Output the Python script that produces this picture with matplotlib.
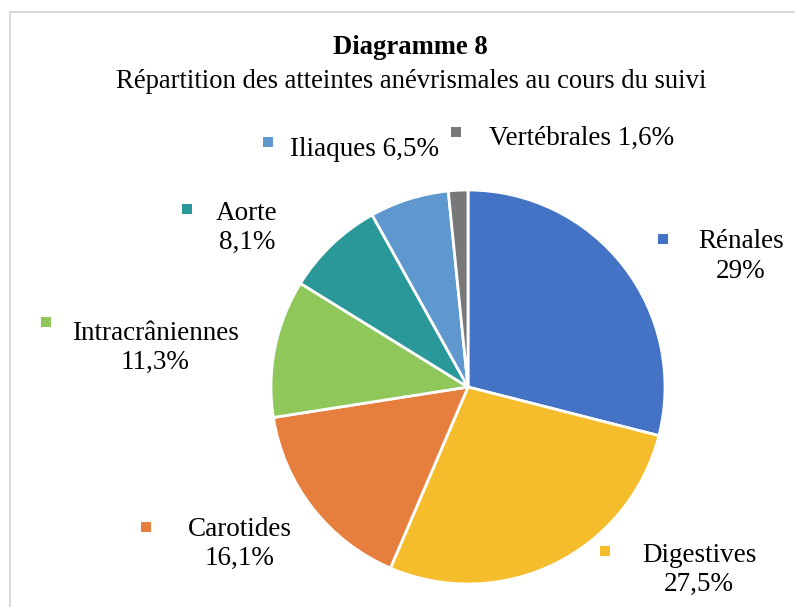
import matplotlib
matplotlib.use("Agg")
from matplotlib import pyplot as plt
from matplotlib.patches import Rectangle

# data
categories = ["Rénales", "Digestives", "Carotides", "Intracrâniennes",
              "Aorte", "Iliaques", "Vertébrales"]
percents = [29, 27.5, 16.1, 11.3, 8.1, 6.5, 1.6]
pct_labels = ["29%", "27,5%", "16,1%", "11,3%", "8,1%", "6,5%", "1,6%"]
colours = ["#4472C4", "#F5BD2C", "#E67F3E", "#8FC75A",
           "#2A9898", "#5E98CF", "#787878"]

# label layout in pixels (text centre x, first line y, marker x, marker y, one line?)
label_pos = [
    (741, 242, 663, 239, False),
    (699, 555, 605, 551, False),
    (240, 529, 146, 527, False),
    (155, 333, 46, 322, False),
    (247, 213, 187, 209, False),
    (365, 150, 268, 142, True),
    (582, 138, 456, 132, True),
]

W, H = 795, 607
plt.rcParams['font.family'] = ['Liberation Serif', 'DejaVu Serif']

fig = plt.figure(figsize=(W / 100, H / 100), dpi=100)
ax = fig.add_axes([0, 0, 1, 1])

ax.pie(percents, colors=colours, startangle=90, counterclock=False,
       center=(468, H - 387), radius=197, frame=True,
       wedgeprops=dict(edgecolor="white", linewidth=2))
ax.set_xlim(0, W)
ax.set_ylim(0, H)
ax.set_aspect("equal")
ax.axis("off")

# thin grey frame (chart area border)
fig.patches.append(Rectangle((10 / W, -0.1), 1.2, (H - 12) / H + 0.1,
                             transform=fig.transFigure, fill=False,
                             edgecolor="#d9d9d9", linewidth=1.5))

fig.text(410 / W, 1 - 48 / H, "Diagramme 8", ha="center", va="center",
         fontsize=19.2, fontweight="bold")
fig.text(411 / W, 1 - 81 / H,
         "Répartition des atteintes anévrismales au cours du suivi",
         ha="center", va="center", fontsize=19.2)

for name, pct, col, pos in zip(categories, pct_labels, colours, label_pos):
    tx, ty, mx, my, one_line = pos
    if one_line:
        ax.text(tx, H - ty, name + " " + pct, ha="center", va="center",
                fontsize=19.5)
    else:
        ax.text(tx, H - ty, name, ha="center", va="center", fontsize=19.5)
        ax.text(tx, H - ty - 29, pct, ha="center", va="center", fontsize=19.5)
    ax.plot(mx, H - my, marker="s", markersize=6.5, color=col,
            markeredgewidth=0, linestyle="none")

fig.savefig("out.png", dpi=100)
